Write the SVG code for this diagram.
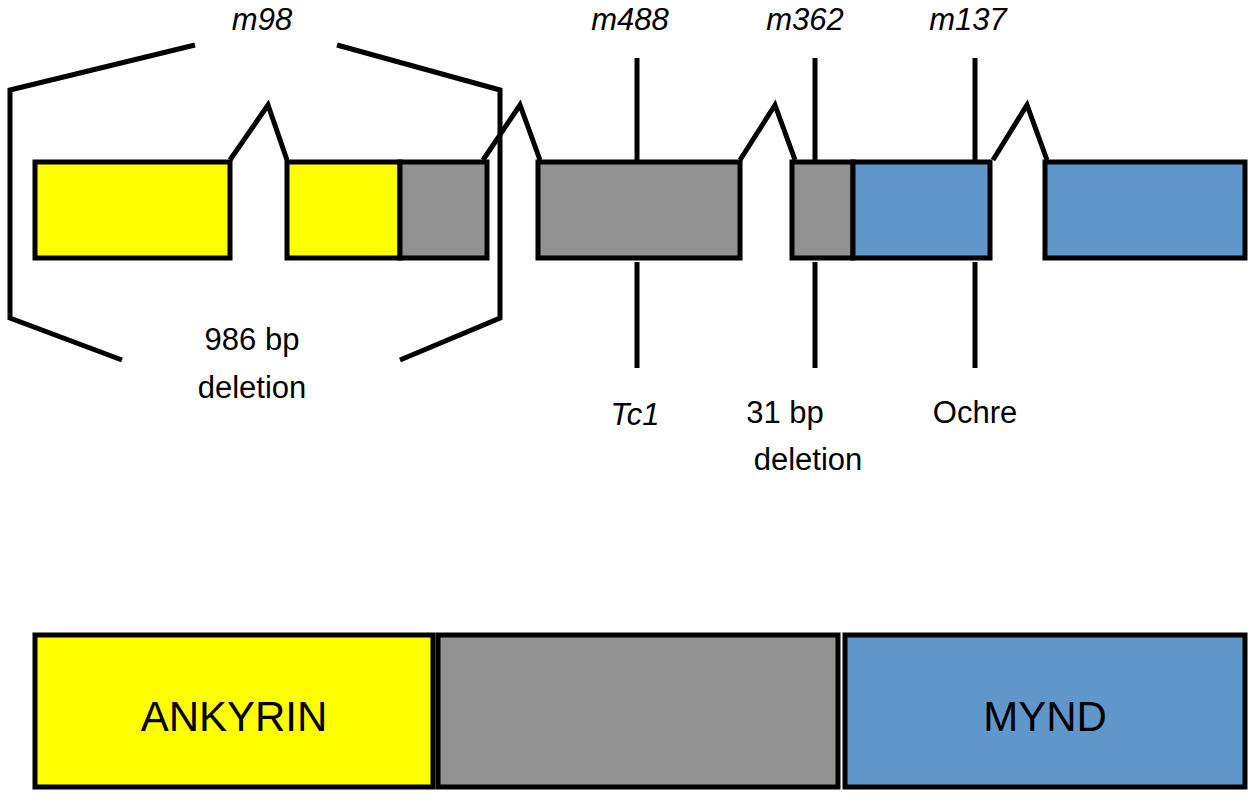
<svg xmlns="http://www.w3.org/2000/svg" width="1256" height="800" viewBox="0 0 1256 800">
<style>
.b{stroke:#000;stroke-width:5}
.y{fill:#ffff00}.g{fill:#929292}.u{fill:#6097cb}
.l{fill:none;stroke:#000;stroke-width:5}
text{font-family:"Liberation Sans",Arial,sans-serif;font-size:31px;fill:#000;text-anchor:middle}
.i{font-style:italic}
.big{font-size:42px}
</style>
<rect width="1256" height="800" fill="#fff"/>
<g id="connectors">
<polyline class="l" points="230,160 268,105 287,160"/>
<polyline class="l" points="483,160 520,105 540,160"/>
<polyline class="l" points="740,160 775,105 795,160"/>
<polyline class="l" points="993,160 1027,105 1047,160"/>
<line class="l" x1="637" y1="58" x2="637" y2="160"/><line class="l" x1="637" y1="262" x2="637" y2="368"/>
<line class="l" x1="815" y1="58" x2="815" y2="160"/><line class="l" x1="815" y1="262" x2="815" y2="368"/>
<line class="l" x1="975" y1="58" x2="975" y2="160"/><line class="l" x1="975" y1="262" x2="975" y2="368"/>
</g>
<g id="exon1"><rect class="b y" x="35" y="162" width="195" height="96"/></g>
<g id="exon2"><rect class="b y" x="287" y="162" width="113" height="96"/><rect class="b g" x="400" y="162" width="87" height="96"/></g>
<g id="exon3"><rect class="b g" x="538" y="162" width="202" height="96"/></g>
<g id="exon4"><rect class="b g" x="792" y="162" width="61" height="96"/><rect class="b u" x="853" y="162" width="137" height="96"/></g>
<g id="exon5"><rect class="b u" x="1045" y="162" width="200" height="96"/></g>
<g id="bracket">
<polyline class="l" points="195,45 10,90 10,318 122,360"/>
<polyline class="l" points="337,45 500,90 500,318 400,360"/>
</g>
<g id="labels">
<text class="i" x="262" y="30">m98</text>
<text class="i" x="630" y="30">m488</text>
<text class="i" x="805" y="30">m362</text>
<text class="i" x="968" y="30">m137</text>
<text x="252" y="350">986 bp</text>
<text x="252" y="398">deletion</text>
<text class="i" x="635" y="425">Tc1</text>
<text x="785" y="423">31 bp</text>
<text x="808" y="470">deletion</text>
<text x="975" y="423">Ochre</text>
</g>
<g id="ankyrin"><rect class="b y" x="35" y="635" width="398" height="152"/><text class="big" x="234" y="731">ANKYRIN</text></g>
<g id="middle"><rect class="b g" x="438" y="635" width="400" height="152"/></g>
<g id="mynd"><rect class="b u" x="845" y="635" width="400" height="152"/><text class="big" x="1045" y="731">MYND</text></g>
</svg>
